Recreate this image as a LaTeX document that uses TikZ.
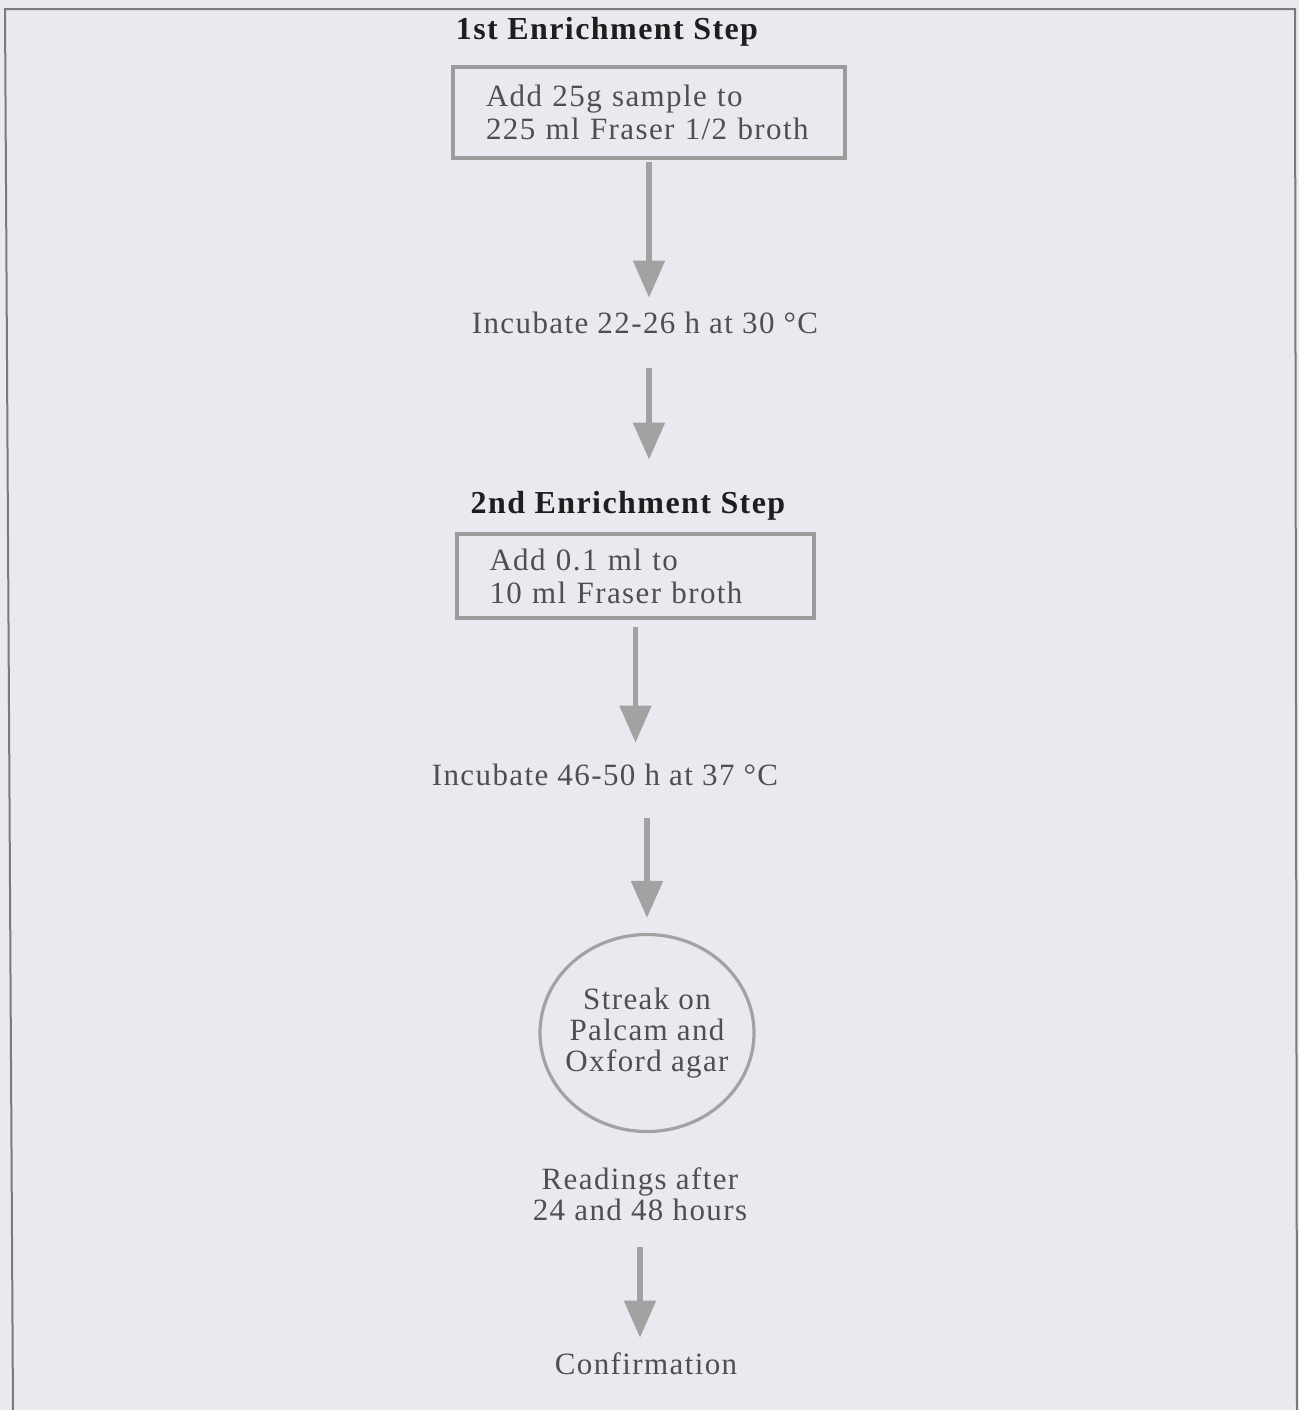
\documentclass[tikz,border=0pt]{standalone}
\usepackage{fontspec}
\setmainfont{Liberation Serif}[LetterSpace=4.5]
\usetikzlibrary{arrows.meta,shapes.geometric}
\definecolor{bg}{HTML}{EAE9EF}
\definecolor{txt}{HTML}{4F4F4F}
\definecolor{ttl}{HTML}{1E1E1E}
\definecolor{boxc}{HTML}{9C9C9C}
\definecolor{arrc}{HTML}{A2A2A2}
\definecolor{frm}{HTML}{7A7A7A}
\tikzset{
  ttlnode/.style={inner sep=0pt, text=ttl, font=\fontsize{16}{18}\selectfont\bfseries, text height=11pt, text depth=3pt},
  plain/.style={inner sep=0pt, text=txt, font=\fontsize{15.5}{16}\selectfont, text height=11pt, text depth=3pt},
  multi/.style={inner sep=0pt, text=txt, font=\fontsize{15.5}{15.5}\selectfont, align=center},
  stepbox/.style={draw=boxc, line width=2pt, rectangle, text=txt, font=\fontsize{15.5}{16.5}\selectfont, align=left},
  roundbox/.style={draw=arrc, line width=1.6pt, ellipse, inner xsep=-8pt, inner ysep=0pt, text=txt, font=\fontsize{15.5}{15.5}\selectfont, align=center},
  flow/.style={draw=arrc, line width=2.6pt, -{Triangle[width=15.5pt,length=18.5pt]}}
}
\begin{document}
\begin{tikzpicture}[x=0.5pt,y=-0.5pt]
\fill[bg] (0,0) rectangle (1299,1410);
\useasboundingbox (0,0) rectangle (1299,1410);
\draw[frm, line width=1pt] (13,1412) -- (5,9) -- (1295,9) -- (1297,1412);

\node[ttlnode] (t1) at (607,31) {1st Enrichment Step};
\node[stepbox, minimum width=196pt, minimum height=45.5pt, text width=163pt, inner xsep=16.5pt, inner ysep=0pt] (b1) at (649,112.5) {Add 25g sample to\\225 ml Fraser 1/2 broth};
\node[plain] (i1) at (645,325) {Incubate 22-26 h at 30 °C};
\node[ttlnode] (t2) at (628,505) {2nd Enrichment Step};
\node[stepbox, minimum width=178.5pt, minimum height=42pt, text width=146pt, inner xsep=16.25pt, inner ysep=0pt] (b2) at (635.5,576) {Add 0.1 ml to\\10 ml Fraser broth};
\node[plain] (i2) at (605,777) {Incubate 46-50 h at 37 °C};
\node[roundbox, minimum width=107pt, minimum height=98.5pt] (c) at (647,1033) {Streak on\\Palcam and\\Oxford agar};
\node[multi] (r) at (640,1194) {Readings after\\24 and 48 hours};
\node[plain] (cf) at (646,1366) {Confirmation};

\draw[flow, shorten <=1pt, shorten >=6.5pt] (b1.south) -- (b1.south |- i1.north);
\draw[flow, shorten <=14.5pt, shorten >=15.5pt] (i1.south -| b1.south) -- (b1.south |- t2.north);
\draw[flow, shorten <=3.5pt, shorten >=10pt] (b2.south) -- (b2.south |- i2.north);
\draw[flow, shorten <=13.5pt, shorten >=7.5pt] (i2.south -| c.north) -- (c.north);
\draw[flow, shorten <=13pt, shorten >=7pt] (r.south) -- (r.south |- cf.north);
\end{tikzpicture}
\end{document}
